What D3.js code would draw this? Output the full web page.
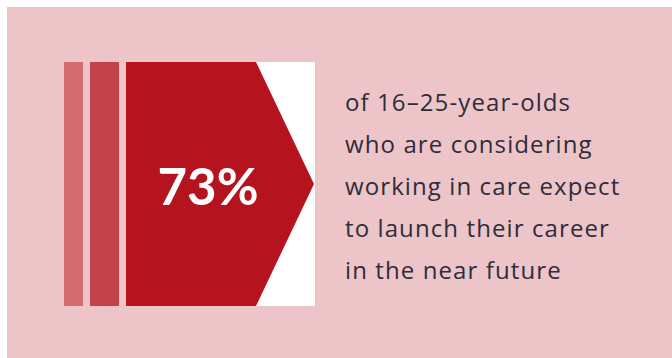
<!DOCTYPE html>
<html>
<head>
<meta charset="utf-8">
<script src="https://cdn.jsdelivr.net/npm/d3@7"></script>
<style>
  body { margin: 0; background: #fff; }
</style>
</head>
<body>
<svg id="chart" width="672" height="358"></svg>
<script>
// values
var share = [73];
var stripes = ["a", "b", "c"];
var stripeColors = ["#d46b70", "#c2434a", "#b5141e"];
var captionLines = [
    "of 16\u201325-year-olds",
    "who are considering",
    "working in care expect",
    "to launch their career",
    "in the near future"
];

var svg = d3.select("#chart");

// pink card
svg.append("rect")
    .attr("x", 7).attr("y", 7)
    .attr("width", 665).attr("height", 351)
    .attr("fill", "#edc4c8");

// panel area
var panel = {left: 63, top: 62, right: 315, bottom: 306};
var ph = panel.bottom - panel.top;

// white box behind the arrow
svg.append("rect")
    .attr("x", 126).attr("y", panel.top)
    .attr("width", panel.right - 126).attr("height", ph)
    .attr("fill", "#ffffff");

// stripe widths: two thin bars then the arrow body
var x = d3.scaleOrdinal()
    .domain(stripes)
    .range([[64, 83], [90, 119], [126, 256]]);

var y = d3.scaleLinear().domain([0, 1]).range([panel.bottom, panel.top]);

var g = svg.append("g");

g.selectAll("rect.stripe")
    .data(stripes.slice(0, 2))
    .enter().append("rect")
    .attr("class", "stripe")
    .attr("x", function (d) { return x(d)[0]; })
    .attr("width", function (d) { return x(d)[1] - x(d)[0]; })
    .attr("y", y(1))
    .attr("height", y(0) - y(1))
    .attr("fill", function (d, i) { return stripeColors[i]; });

// arrow shape
var a = x("c");
var arrow = d3.path();
arrow.moveTo(a[0], y(1));
arrow.lineTo(a[1], y(1));
arrow.lineTo(panel.right - 1, y(0.5));
arrow.lineTo(a[1], y(0));
arrow.lineTo(a[0], y(0));
arrow.closePath();

g.append("path")
    .attr("d", arrow.toString())
    .attr("fill", stripeColors[2]);

// big number
g.selectAll("text.big")
    .data(share)
    .enter().append("text")
    .attr("class", "big")
    .attr("x", 208)
    .attr("y", 205)
    .attr("text-anchor", "middle")
    .attr("fill", "#ffffff")
    .style("font", "bold 51px Lato, 'DejaVu Sans', sans-serif")
    .text(function (d) { return d + "%"; });

// caption
svg.append("g")
    .selectAll("text")
    .data(captionLines)
    .enter().append("text")
    .attr("x", 345)
    .attr("y", function (d, i) { return 111 + i * 42; })
    .attr("fill", "#2d2d3b")
    .style("font", "24px 'Open Sans', sans-serif")
    .style("letter-spacing", "1.1px")
    .text(function (d) { return d; });
</script>
</body>
</html>
